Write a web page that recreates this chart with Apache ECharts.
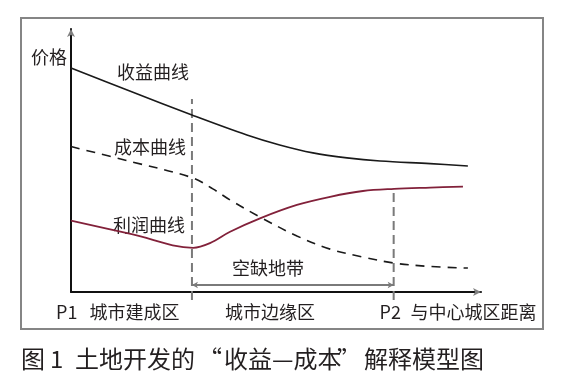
<!DOCTYPE html>
<html><head><meta charset="utf-8">
<script src="https://cdn.jsdelivr.net/npm/echarts@6/dist/echarts.min.js"></script>
<style>html,body{margin:0;padding:0;background:#fff}#c{width:565px;height:386px}</style>
</head><body><div id="c"></div>
<script>
// ---- data (x: distance from centre, 0-100; y: price, 0-100) ----
const revenueX = [0, 14.8, 29.5, 42.9, 50.9, 59.0, 67.3, 75.4, 87.6, 96.8];
const revenueY = [85.2, 76.1, 67.3, 59.7, 55.9, 52.9, 51.0, 49.8, 48.8, 47.9];
const costX = [0, 14.8, 29.5, 34.6, 38.8, 46.1, 55.1, 63.2, 71.2, 78.8, 87.6, 96.8];
const costY = [55.3, 49.5, 43.5, 39.2, 35.0, 28.5, 21.3, 16.3, 13.3, 11.0, 9.7, 9.1];
const profitX = [0, 14.8, 29.8, 33.9, 38.8, 46.1, 55.1, 63.2, 71.2, 78.8, 87.6, 95.6];
const profitY = [27.1, 22.0, 16.8, 18.6, 22.9, 28.0, 33.1, 36.2, 38.4, 39.2, 39.7, 40.1];
const p1Line = { x: 29.5, from: -3.0, to: 73.4 };
const p2Line = { x: 78.7, from: -3.0, to: 39.2 };
const gapY = 2.66;
const curveLabels = ['收益曲线', '成本曲线', '利润曲线'];
const axisTexts = ['价格', 'P1', '城市建成区', '城市边缘区', 'P2', '与中心城区距离', '空缺地带'];
const captionParts = ['图', '1', '土地开发的', '“', '收益—成本', '”', '解释模型图'];

const FONT = '"Noto Sans CJK SC", "Noto Sans", sans-serif';
const TXT = '#231f20';
const zip = (xs, ys) => xs.map((x, i) => [x, ys[i]]);

const chart = echarts.init(document.getElementById('c'), null, { renderer: 'canvas' });

const baseAxis = {
  type: 'value', min: 0, max: 100,
  axisTick: { show: false }, axisLabel: { show: false }, splitLine: { show: false }
};

function txt(text, x, y, size, align) {
  return {
    type: 'text', x: x, y: y, silent: true,
    style: { text: text, fill: TXT, font: size + 'px ' + FONT, textAlign: align || 'left', textVerticalAlign: 'middle' }
  };
}

const captionX = [21, 50, 75, 198, 224, 337, 364];

const option = {
  animation: false,
  backgroundColor: '#fff',
  grid: { left: 71, right: 84, top: 29, bottom: 94, containLabel: false },
  xAxis: [
    Object.assign({}, baseAxis, { position: 'bottom',
      axisLine: { show: true, onZero: false, lineStyle: { color: '#111', width: 2 } } }),
    Object.assign({}, baseAxis, { position: 'bottom',
      axisLine: { show: true, onZero: false, symbol: ['none', 'arrow'], symbolSize: [6, 8], lineStyle: { color: '#808080', width: 0 } } })
  ],
  yAxis: [
    Object.assign({}, baseAxis, { position: 'left',
      axisLine: { show: true, onZero: false, lineStyle: { color: '#111', width: 2 } } }),
    Object.assign({}, baseAxis, { position: 'left',
      axisLine: { show: true, onZero: false, symbol: ['none', 'arrow'], symbolSize: [6, 8], lineStyle: { color: '#808080', width: 0 } } })
  ],
  series: [
    { name: 'P1', type: 'line', clip: false, showSymbol: false, symbol: 'none', silent: true,
      data: [[p1Line.x, p1Line.from], [p1Line.x, p1Line.to]],
      lineStyle: { color: '#7a7a7a', width: 2, type: [9, 5] }, z: 1 },
    { name: 'P2', type: 'line', clip: false, showSymbol: false, symbol: 'none', silent: true,
      data: [[p2Line.x, p2Line.from], [p2Line.x, p2Line.to]],
      lineStyle: { color: '#7a7a7a', width: 2, type: [9, 5] }, z: 1,
      markLine: {
        silent: true, symbol: ['arrow', 'arrow'], symbolSize: [5, 6], label: { show: false },
        lineStyle: { color: '#7a7a7a', width: 2, type: 'solid' },
        data: [[{ coord: [p1Line.x, gapY] }, { coord: [p2Line.x, gapY] }]]
      } },
    { name: '收益曲线', type: 'line', smooth: 0.35, showSymbol: false, symbol: 'none', silent: true,
      data: zip(revenueX, revenueY), lineStyle: { color: '#1a1a1a', width: 1.6 }, z: 3 },
    { name: '成本曲线', type: 'line', smooth: 0.35, showSymbol: false, symbol: 'none', silent: true,
      data: zip(costX, costY), lineStyle: { color: '#1a1a1a', width: 1.6, type: [9, 7] }, z: 3 },
    { name: '利润曲线', type: 'line', smooth: 0.35, showSymbol: false, symbol: 'none', silent: true,
      data: zip(profitX, profitY), lineStyle: { color: '#82213a', width: 1.8 }, z: 3 }
  ],
  graphic: [
    { type: 'rect', silent: true, shape: { x: 21, y: 18, width: 522, height: 311 },
      style: { fill: 'none', stroke: '#858585', lineWidth: 2 }, z: 0 },
    txt(axisTexts[0], 67, 57, 18, 'right'),
    txt(curveLabels[0], 117, 72, 18),
    txt(curveLabels[1], 114, 147, 18),
    txt(curveLabels[2], 113, 225, 18),
    txt(axisTexts[6], 232, 268, 18),
    txt(axisTexts[1], 56, 312, 18),
    txt(axisTexts[2], 89.5, 312, 18),
    txt(axisTexts[3], 225, 312, 18),
    txt(axisTexts[4], 379.5, 312, 18),
    txt(axisTexts[5], 410.5, 312, 18)
  ].concat(captionParts.map((t, i) => txt(t, captionX[i], 359, 24)))
};
chart.setOption(option);
</script>
</body></html>
